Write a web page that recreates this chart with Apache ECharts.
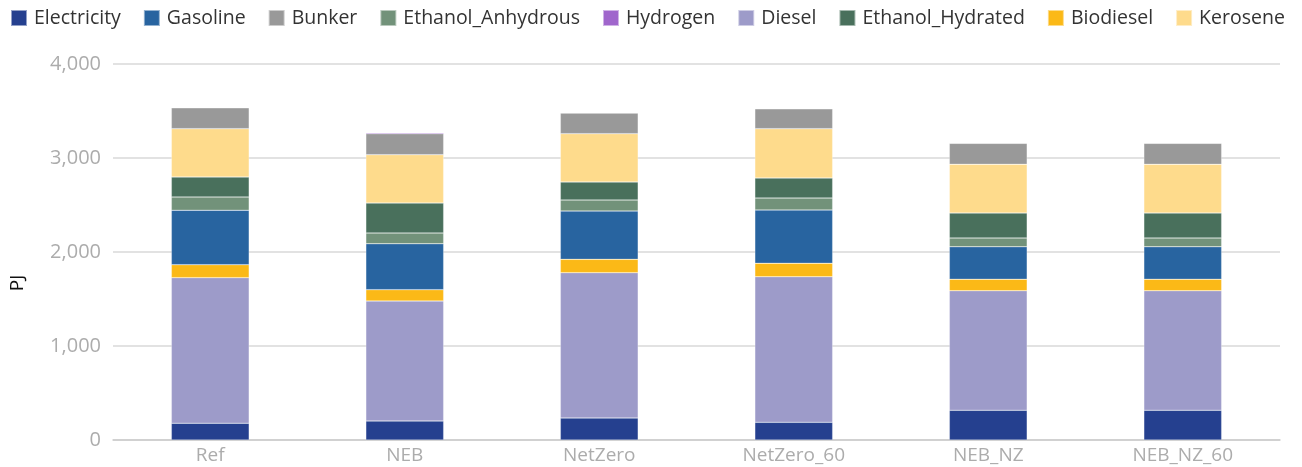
<!DOCTYPE html>
<html>
<head>
<meta charset="utf-8">
<script src="https://cdn.jsdelivr.net/npm/echarts@6/dist/echarts.min.js"></script>
<style>
  html, body { margin: 0; padding: 0; background: #fff; }
  #chart { width: 1302px; height: 467px; }
</style>
</head>
<body>
<div id="chart"></div>
<script>
// scenarios on the x axis
const scenarios = ['Ref', 'NEB', 'NetZero', 'NetZero_60', 'NEB_NZ', 'NEB_NZ_60']

// PJ per fuel, stacked bottom to top in this order
const electricity      = [178, 202, 234, 188, 316, 316]
const diesel           = [1549, 1277, 1546, 1549, 1272, 1272]
const biodiesel        = [138, 120, 142, 143, 122, 122]
const gasoline         = [579, 489, 514, 567, 346, 346]
const ethanolAnhydrous = [141, 114, 117, 127, 93, 93]
const ethanolHydrated  = [213, 319, 192, 213, 266, 266]
const kerosene         = [514, 514, 514, 525, 518, 518]
const bunker           = [223, 224, 220, 212, 223, 223]
const hydrogen         = [0, 10, 0, 0, 0, 0]

const legendOrder = ['Electricity', 'Gasoline', 'Bunker', 'Ethanol_Anhydrous', 'Hydrogen',
  'Diesel', 'Ethanol_Hydrated', 'Biodiesel', 'Kerosene']

const stackSeries = [
  { name: 'Electricity', data: electricity, color: '#25408f' },
  { name: 'Diesel', data: diesel, color: '#9d9bc9' },
  { name: 'Biodiesel', data: biodiesel, color: '#fbb917' },
  { name: 'Gasoline', data: gasoline, color: '#2864a0' },
  { name: 'Ethanol_Anhydrous', data: ethanolAnhydrous, color: '#72927a' },
  { name: 'Ethanol_Hydrated', data: ethanolHydrated, color: '#49705c' },
  { name: 'Kerosene', data: kerosene, color: '#fedb8c' },
  { name: 'Bunker', data: bunker, color: '#999999' },
  { name: 'Hydrogen', data: hydrogen, color: '#a066cc' }
]

const chart = echarts.init(document.getElementById('chart'))

const option = {
  animation: false,
  textStyle: { fontFamily: 'Open Sans' },
  legend: {
    data: legendOrder,
    top: 3,
    left: 5,
    width: 1300,
    padding: [5, 0, 5, 5],
    itemWidth: 16,
    itemHeight: 16,
    itemGap: 22,
    icon: 'rect',
    textStyle: { fontSize: 19.5, color: '#333', fontFamily: 'Open Sans', padding: [0, 0, 0, 2] }
  },
  grid: {
    left: 112,
    right: 22,
    top: 64,
    bottom: 27
  },
  xAxis: {
    type: 'category',
    data: scenarios,
    axisLine: { lineStyle: { color: '#cccccc', width: 1.5 } },
    axisTick: { show: false },
    axisLabel: { color: '#acacac', fontSize: 19, margin: 6, fontFamily: 'Open Sans' }
  },
  yAxis: {
    type: 'value',
    min: 0,
    max: 4000,
    interval: 1000,
    name: 'PJ',
    nameLocation: 'middle',
    nameGap: 86,
    nameTextStyle: { color: '#111', fontSize: 19, fontFamily: 'Open Sans', padding: [0, 0, 0, -62] },
    axisLine: { show: false },
    axisTick: { show: false },
    axisLabel: {
      color: '#acacac',
      fontSize: 20,
      margin: 12,
      fontFamily: 'Open Sans',
      formatter: v => v.toLocaleString('en-US')
    },
    splitLine: { lineStyle: { color: '#d9d9d9', width: 1.5 } }
  },
  series: stackSeries.map(s => ({
    name: s.name,
    type: 'bar',
    stack: 'total',
    barWidth: '40%',
    data: s.data,
    itemStyle: { color: s.color, borderColor: 'rgba(255,255,255,0.5)', borderWidth: 0.5 }
  }))
}

chart.setOption(option)
</script>
</body>
</html>
